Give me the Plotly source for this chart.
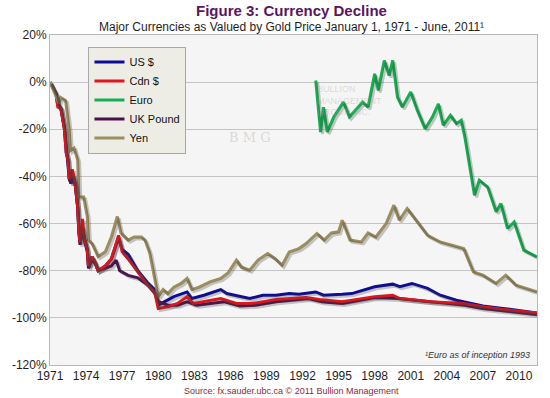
import plotly.graph_objects as go

# ---------------- data ----------------
us_years = [1971.0, 1971.5, 1971.65, 1971.9, 1972.2, 1972.35, 1972.5, 1972.6, 1972.75, 1972.9,
            1973.1, 1973.3, 1973.4, 1973.5, 1973.7, 1973.85, 1974.1, 1974.2, 1974.5, 1974.8,
            1975.0, 1975.6, 1976.1, 1976.4, 1976.7, 1977.0, 1977.5, 1978.3, 1979.1, 1979.7,
            1980.0, 1980.5, 1981.3, 1982.4, 1982.8, 1983.8, 1985.2, 1985.7, 1986.8, 1987.6,
            1988.7, 1989.8, 1990.9, 1991.7, 1993.1, 1993.75, 1995.3, 1996.1, 1998.0, 1999.5,
            2000.1, 2001.1, 2002.4, 2003.45, 2004.8, 2005.9, 2007.0, 2008.65, 2009.75, 2011.5]
us_vals = [0, -4.8, -10, -11, -20, -30, -33, -41, -43, -39,
           -43, -53, -63, -68, -61, -66, -71, -78, -74, -77,
           -80, -78, -75, -70, -66, -71, -73, -80, -85, -88,
           -94.6, -93.2, -91, -89, -91.8, -90.4, -88, -89.7, -91, -91.8,
           -90.4, -90.4, -89.7, -90, -89, -90.4, -90, -89.7, -86.8, -85.7,
           -86.8, -85.4, -87.5, -90.4, -92.5, -93.9, -95, -96, -96.7, -97.9]

cdn_years = [1971.0, 1971.5, 1971.65, 1971.9, 1972.2, 1972.35, 1972.5, 1972.6, 1972.75, 1972.85,
             1973.1, 1973.3, 1973.4, 1973.5, 1973.7, 1973.85, 1974.1, 1974.2, 1974.5, 1974.8,
             1975.0, 1975.6, 1976.1, 1976.4, 1976.7, 1977.0, 1977.5, 1978.3, 1979.1, 1979.7,
             1980.0, 1980.8, 1981.6, 1982.4, 1982.9, 1985.2, 1986.5, 1987.8, 1989.8, 1992.3,
             1993.4, 1995.3, 1996.1, 1998.0, 1999.5, 2000.1, 2002.6, 2005.4, 2007.0, 2008.65, 2011.5]
cdn_vals = [0, -5, -10.6, -11, -20, -30, -33, -41, -40, -37,
            -43, -53, -63, -68, -58, -66, -71, -78, -74, -77,
            -80, -78, -75, -70, -65, -72, -75, -80.5, -86, -89,
            -96, -95.3, -93.9, -91, -93.9, -91.8, -93.9, -93.9, -92.2, -91.4,
            -92.2, -93.2, -92.5, -91, -90.4, -91.8, -93.2, -93.9, -95.3, -96.4, -97.9]

euro_years = [1993.1, 1993.5, 1993.75, 1994.05, 1994.6, 1995.4, 1995.9, 1996.5, 1997.0, 1997.45,
              1998.0, 1998.3, 1998.8, 1999.2, 1999.5, 1999.9, 2000.3, 2001.0, 2001.55, 2002.2,
              2002.8, 2003.3, 2003.7, 2004.3, 2004.8, 2005.2, 2005.5, 2006.05, 2006.3, 2006.7,
              2007.4, 2008.1, 2008.5, 2009.05, 2009.6, 2010.4, 2011.5]
euro_vals = [0.7, -21.2, -10.6, -21.2, -14.8, -8.5, -14.8, -11.3, -8.5, -10.6,
             3.5, -3.5, 9.2, 2.8, 9.2, -6.4, -10.6, -4.2, -12, -19.8,
             -14.8, -9.2, -18.3, -14.1, -17.6, -16.2, -23.3, -40.2, -48, -41.6,
             -44.5, -55, -51.5, -62.1, -59.3, -71.3, -74.1]

uk_years = [1971.0, 1971.5, 1971.65, 1971.9, 1972.2, 1972.4, 1972.6, 1972.75, 1972.9, 1973.1,
            1973.3, 1973.4, 1973.5, 1973.7, 1973.85, 1974.1, 1974.2, 1974.5, 1974.8, 1975.0,
            1975.6, 1976.1, 1976.5, 1976.8, 1977.5, 1978.3, 1979.1, 1979.7, 1980.0, 1980.8,
            1981.6, 1982.4, 1983.2, 1985.5, 1986.8, 1988.2, 1989.8, 1992.5, 1993.6, 1995.3,
            1996.1, 1998.0, 2000.1, 2002.6, 2005.4, 2007.0, 2008.65, 2011.5]
uk_vals = [0, -5, -9, -11, -19, -31, -41, -43, -40, -44,
           -53, -64, -69, -62, -67, -72, -79, -75, -77.5, -80,
           -79, -78, -75.5, -80, -82, -83, -86, -89.5, -93, -94.6,
           -94.6, -93.2, -94.6, -93.2, -95, -94.6, -93.2, -91.8, -93.2, -93.9,
           -93.2, -91.4, -91.8, -93.2, -94.6, -96, -97, -98.6]

yen_years = [1971.0, 1971.75, 1971.9, 1972.3, 1972.6, 1972.7, 1973.0, 1973.3, 1973.4, 1973.8,
             1974.1, 1974.2, 1974.5, 1975.0, 1975.6, 1976.1, 1976.6, 1976.9, 1977.5, 1978.0,
             1978.6, 1978.9, 1979.3, 1980.0, 1980.4, 1980.8, 1981.3, 1981.9, 1982.4, 1982.8,
             1983.4, 1984.3, 1985.2, 1985.8, 1986.5, 1986.9, 1987.6, 1988.3, 1989.1, 1989.7,
             1990.3, 1990.9, 1991.7, 1992.3, 1993.2, 1993.8, 1994.4, 1995.0, 1995.3, 1995.95,
             1996.9, 1997.45, 1998.1, 1998.95, 1999.6, 2000.05, 2000.7, 2001.55, 2002.4, 2003.45,
             2004.55, 2005.4, 2006.2, 2007.0, 2008.1, 2008.9, 2009.75, 2011.5]
yen_vals = [0, -9, -6.5, -7.8, -20.5, -29, -28, -33, -48.7, -48.7,
            -57, -67, -68.5, -74, -72, -65.7, -57, -64, -67, -65.7,
            -65.7, -67, -72.6, -91, -88, -89.7, -87, -85.4, -83.3, -88,
            -87, -84.7, -83.3, -81, -75.5, -78.4, -79.8, -75.5, -72.7, -74.8,
            -77.7, -72, -70.6, -68.5, -64.2, -67, -64, -63.5, -58.6, -67,
            -67.8, -64, -65.7, -60, -52.2, -58.6, -53.6, -59.3, -65, -67.8,
            -69.2, -70.6, -80.5, -81.9, -85.4, -81.9, -86.1, -89]

x_tick_years = [1971, 1974, 1977, 1980, 1983, 1986, 1989, 1992, 1995, 1998, 2001, 2004, 2007, 2010]
y_ticks = [20, 0, -20, -40, -60, -80, -100, -120]
y_tick_labels = [f"{v}%" for v in y_ticks]

# ---------------- styling ----------------
series = [
    ("US $", us_years, us_vals, "#0c0c96", 1),
    ("UK Pound", uk_years, uk_vals, "#4e0c52", 4),
    ("Cdn $", cdn_years, cdn_vals, "#e4141c", 2),
    ("Euro", euro_years, euro_vals, "#12b050", 3),
    ("Yen", yen_years, yen_vals, "#9c8e5e", 5),
]

X_RANGE = [1971.0, 2011.5]
Y_RANGE = [-120, 20]
# shadow axes: same scales, shifted ~2px right and down
dx = (X_RANGE[1] - X_RANGE[0]) / 494 * 2
dy = (Y_RANGE[1] - Y_RANGE[0]) / 330 * 2

fig = go.Figure()

for name, xs, ys, color, rank in series:
    fig.add_trace(go.Scatter(x=xs, y=ys, mode="lines", xaxis="x2", yaxis="y2",
                             line=dict(color="rgba(60,60,60,0.28)", width=3),
                             showlegend=False, hoverinfo="skip"))

for name, xs, ys, color, rank in series:
    fig.add_trace(go.Scatter(x=xs, y=ys, mode="lines", name=name,
                             line=dict(color=color, width=3),
                             legendrank=rank))

axis_font = dict(family="Arial, Liberation Sans, sans-serif", size=12, color="#1e1e1e")

fig.update_layout(
    width=550, height=398,
    margin=dict(l=44, r=12, t=35, b=33),
    paper_bgcolor="white",
    plot_bgcolor="#f5f5f5",
    font=axis_font,
    xaxis=dict(range=X_RANGE, tickvals=x_tick_years, ticktext=[str(v) for v in x_tick_years],
               showgrid=False, zeroline=False, showline=True, linecolor="#b8b8b8", mirror=True,
               ticks="", tickfont=axis_font),
    yaxis=dict(range=Y_RANGE, tickvals=y_ticks, ticktext=y_tick_labels, showgrid=True,
               gridcolor="#c4c4c4", gridwidth=1, zeroline=False, showline=True,
               linecolor="#b8b8b8", mirror=True, ticks="", tickfont=axis_font),
    xaxis2=dict(range=[X_RANGE[0] - dx, X_RANGE[1] - dx], overlaying="x", visible=False),
    yaxis2=dict(range=[Y_RANGE[0] + dy, Y_RANGE[1] + dy], overlaying="y", visible=False),
    legend=dict(x=0.079, y=0.965, xanchor="left", yanchor="top",
                bgcolor="#ededE6", bordercolor="#a8a8a8", borderwidth=1,
                font=dict(family="Arial, Liberation Sans, sans-serif", size=11, color="#111"),
                tracegroupgap=0, itemwidth=30),
    showlegend=True,
    annotations=[
        dict(text="<b>Figure 3: Currency Decline</b>", xref="paper", yref="paper",
             x=0.496, y=1.074, xanchor="center", yanchor="middle", showarrow=False,
             font=dict(family="Arial, Liberation Sans, sans-serif", size=15, color="#5a1660")),
        dict(text="Major Currencies as Valued by Gold Price January 1, 1971 - June, 2011¹",
             xref="paper", yref="paper", x=0.496, y=1.023, xanchor="center", yanchor="middle",
             showarrow=False,
             font=dict(family="Arial, Liberation Sans, sans-serif", size=12, color="#1e1e1e")),
        dict(text="<i>¹Euro as of inception 1993</i>", xref="paper", yref="paper",
             x=0.99, y=0.03, xanchor="right", yanchor="middle", showarrow=False,
             font=dict(family="Arial, Liberation Sans, sans-serif", size=9, color="#333")),
        dict(text="Source: fx.sauder.ubc.ca © 2011 Bullion Management", xref="paper",
             yref="paper", x=0.496, y=-0.079, xanchor="center", yanchor="middle",
             showarrow=False,
             font=dict(family="Arial, Liberation Sans, sans-serif", size=9, color="#8a2a3c")),
        dict(text="B M G", xref="paper", yref="paper", x=0.41, y=0.69, xanchor="center",
             yanchor="middle", showarrow=False,
             font=dict(family="DejaVu Serif, serif", size=13, color="rgba(170,150,150,0.35)")),
        dict(text="BULLION<br>MANAGEMENT<br>GROUP INC.", xref="paper", yref="paper",
             x=0.545, y=0.8, xanchor="left", yanchor="middle", showarrow=False, align="left",
             font=dict(family="Arial, sans-serif", size=9, color="rgba(170,160,160,0.35)")),
    ],
)

fig.write_html("out.html", config={"displayModeBar": False},
               post_script="document.body.style.margin='0';document.body.style.overflow='hidden';")
